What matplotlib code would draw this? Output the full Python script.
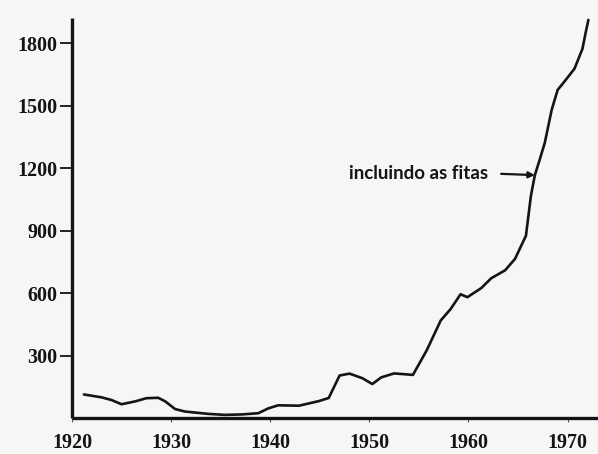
"""Curva de vendas 1920-1972 (reprodução do gráfico escaneado)."""

import matplotlib
matplotlib.use("Agg")
import matplotlib.pyplot as plt  # noqa: E402
import numpy as np  # noqa: E402

# dados
anos = [
    1921.2, 1923.0, 1924.0, 1925.0, 1926.4, 1927.5, 1928.7, 1929.4,
    1930.4, 1931.4, 1933.7, 1935.4, 1937.1, 1938.8, 1939.8, 1940.8,
    1942.9, 1944.9, 1945.9, 1947.0, 1948.0, 1949.3, 1950.3, 1951.2,
    1952.5, 1954.4, 1955.8, 1957.2, 1958.2, 1959.2, 1959.9, 1961.3,
    1962.3, 1963.7, 1964.7, 1965.8, 1966.3, 1966.7, 1967.2, 1967.7,
    1968.4, 1969.0, 1969.8, 1970.7, 1971.5, 1971.8, 1972.1,
]
valores = [
    113, 99, 86, 66, 80, 95, 97, 80,
    43, 31, 20, 15, 17, 23, 46, 61,
    59, 81, 96, 204, 213, 191, 163, 195,
    214, 207, 326, 468, 523, 594, 580, 624,
    671, 709, 764, 875, 1066, 1166, 1242, 1321,
    1480, 1575, 1622, 1677, 1772, 1844, 1911,
]

xticks = [1920, 1930, 1940, 1950, 1960, 1970]
yticks = [300, 600, 900, 1200, 1500, 1800]

rotulo = "incluindo as fitas"
ano_seta = 1966.7
ano_texto = 1962.0
valor_texto = 1172

tinta = "#141414"
papel = "#f6f6f5"

fig = plt.figure(figsize=(5.98, 4.54), dpi=100, facecolor=papel)
ax = fig.add_axes([0.1204, 0.0793, 0.8796, 0.881])
ax.set_facecolor(papel)

ax.plot(anos, valores, color=tinta, linewidth=1.9, clip_on=False,
        solid_capstyle="round", solid_joinstyle="round")

ax.set_xlim(1920.2, 1973.07)
ax.set_ylim(0, 1920)

for lado in ("top", "right"):
    ax.spines[lado].set_visible(False)
for lado in ("left", "bottom"):
    ax.spines[lado].set_linewidth(2.4)
    ax.spines[lado].set_color(tinta)
    ax.spines[lado].set_capstyle("butt")

ax.set_xticks(xticks)
ax.set_xticklabels([str(t) for t in xticks])
ax.set_yticks(yticks)
ax.set_yticklabels([str(t) for t in yticks])

ax.tick_params(axis="y", direction="out", length=8.5, width=1.3,
               pad=2, colors=tinta, labelsize=14.5)
ax.tick_params(axis="x", direction="out", length=3, width=0.8,
               pad=8, colors="#555555", labelcolor=tinta, labelsize=14.5)
for lbl in ax.get_xticklabels() + ax.get_yticklabels():
    lbl.set_family("Liberation Serif")
    lbl.set_fontweight("bold")

# anotação com seta até a curva
valor_seta = np.interp(ano_seta, anos, valores)
ax.annotate(
    "",
    xy=(ano_seta, valor_seta),
    xytext=(ano_texto + 1.3, valor_texto),
    arrowprops=dict(arrowstyle="-|>", color=tinta, lw=1.6,
                    mutation_scale=9, shrinkA=0, shrinkB=0),
)
ax.text(ano_texto, valor_texto, rotulo, ha="right", va="center",
        fontsize=13.5, fontweight="bold", family="Lato", color=tinta)

fig.savefig("out.png", dpi=100, facecolor=papel)
